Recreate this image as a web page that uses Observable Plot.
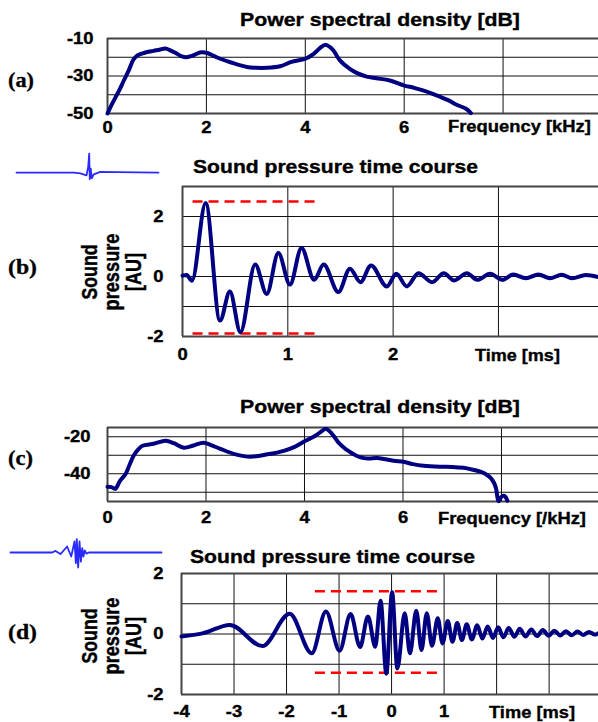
<!DOCTYPE html>
<html>
<head>
<meta charset="utf-8">
<script src="https://cdn.jsdelivr.net/npm/d3@7"></script>
<script src="https://cdn.jsdelivr.net/npm/@observablehq/plot@0.6"></script>
<style>
  html, body { margin: 0; padding: 0; background: #fff; }
  #root { position: relative; width: 598px; height: 722px; overflow: hidden; background: #fff; }
</style>
</head>
<body>
<div id="root"></div>
<script>
// ---------------- DATA ----------------
// (a) power spectral density, click 1
const aFreq = [0, 0.08, 0.16, 0.25, 0.33, 0.43, 0.53, 0.62, 0.75, 0.93, 1.05, 1.17, 1.27, 1.37, 1.5, 1.6, 1.72, 1.87, 2.0, 2.15, 2.28, 2.5, 2.82, 3.0, 3.22, 3.49, 3.72, 4.0, 4.17, 4.3, 4.4, 4.48, 4.57, 4.7, 4.9, 5.05, 5.24, 5.44, 5.71, 5.99, 6.2, 6.38, 6.55, 6.71, 6.9, 7.05, 7.25, 7.35];
const aPsd  = [-50, -45.5, -41.5, -37, -32.4, -27, -21, -18.8, -17.6, -16.6, -16, -15.3, -16.3, -17.6, -19.5, -20, -19.2, -17.5, -17.6, -19.3, -20.8, -22.8, -25.2, -25.6, -25.6, -24.8, -22.5, -20.8, -18.2, -15, -13.4, -14.2, -16.4, -21.7, -26.2, -28.5, -30.3, -31.2, -32.4, -35, -36.3, -37.7, -39.3, -40.9, -43, -45.2, -47.5, -49.8];
const aTicksX = [0, 2, 4, 6];
const aTicksY = [-10, -30, -50];
const aGridX = [2, 4, 6, 8];
const aGridY = [-20, -30, -40];

// (b) sound pressure time course, click 1
const bTime = [0, 0.04, 0.09, 0.22, 0.356, 0.45, 0.55, 0.69, 0.8, 0.91, 1.02, 1.13, 1.25, 1.34, 1.48, 1.59, 1.69, 1.79, 1.94, 2.03, 2.13, 2.24, 2.37, 2.48, 2.58, 2.7, 2.8, 2.92, 3.04, 3.14, 3.26, 3.38, 3.49, 3.6, 3.7, 3.83, 3.95];
const bPress = [0.03, 0.05, -0.14, 2.45, -1.47, -0.5, -1.86, 0.4, -0.58, 0.78, -0.27, 0.95, -0.11, 0.4, -0.52, 0.26, -0.19, 0.37, -0.33, 0.09, -0.33, 0.11, -0.19, 0.11, -0.13, 0.11, -0.11, 0.09, -0.11, 0.07, -0.06, 0.07, -0.06, 0.06, -0.06, 0.05, -0.02];
const bTicksX = [0, 1, 2];
const bTicksY = [-2, 0, 2];
const bGridX = [1, 2, 3];
const bGridY = [-1, 0, 1, 2];
const bDashY = [2.5, -1.9];
const bDashX = [0.1, 1.28];

// (c) power spectral density, click 2
const cFreq = [0, 0.08, 0.16, 0.25, 0.37, 0.45, 0.53, 0.62, 0.71, 0.94, 1.18, 1.35, 1.55, 1.75, 1.95, 2.1, 2.29, 2.6, 2.9, 3.25, 3.58, 3.8, 4.02, 4.22, 4.35, 4.43, 4.5, 4.59, 4.7, 4.83, 5.14, 5.3, 5.48, 5.81, 6.01, 6.2, 6.42, 6.76, 7.0, 7.23, 7.4, 7.57, 7.7, 7.78, 7.85, 7.89, 7.94, 8.0, 8.06, 8.12];
const cPsd  = [-47, -47.2, -48.1, -44, -40, -35, -30.3, -27, -24.9, -23.8, -22.2, -23.5, -25.9, -24.7, -23.2, -24.5, -26.5, -29.5, -30.8, -29.5, -27.6, -25.5, -22.2, -19.5, -17, -15.7, -16.8, -19.5, -23.5, -26.5, -31.2, -31.8, -31.5, -33, -33.5, -34.8, -35.7, -36.2, -36.3, -36.8, -37.7, -38.9, -40.5, -42.2, -45, -48, -54.8, -52.5, -52, -54.6];
const cTicksX = [0, 2, 4, 6];
const cTicksY = [-20, -40];
const cGridX = [2, 4, 6, 8];
const cGridY = [-20, -30, -40, -50];

// (d) sound pressure time course, click 2
const dTime = [-4, -3.6, -3.08, -2.46, -1.94, -1.52, -1.25, -0.99, -0.78, -0.6, -0.45, -0.31, -0.21, -0.1, 0.01, 0.11, 0.25, 0.35, 0.47, 0.57, 0.67, 0.77, 0.88, 0.97, 1.07, 1.16, 1.25, 1.34, 1.43, 1.53, 1.63, 1.73, 1.83, 1.93, 2.03, 2.13, 2.23, 2.34, 2.44, 2.55, 2.66, 2.77, 2.88, 2.99, 3.1, 3.21, 3.32, 3.43, 3.54, 3.65, 3.76, 3.87, 3.94];
const dPress = [-0.08, 0.02, 0.3, -0.4, 0.67, -0.64, 0.74, -0.55, 0.66, -0.43, 0.58, -0.42, 1.1, -1.31, 1.38, -1.14, 0.69, -0.64, 0.77, -0.53, 0.69, -0.39, 0.52, -0.31, 0.43, -0.26, 0.36, -0.2, 0.32, -0.18, 0.29, -0.15, 0.25, -0.13, 0.22, -0.11, 0.2, -0.09, 0.17, -0.08, 0.15, -0.07, 0.13, -0.06, 0.11, -0.05, 0.09, -0.04, 0.08, -0.03, 0.07, -0.02, 0.03];
const dTicksX = [-4, -3, -2, -1, 0, 1];
const dTicksY = [-2, 0, 2];
const dGridX = [-3, -2, -1, 0, 1, 2, 3];
const dGridY = [-1, 0, 1];
const dDashY = [1.41, -1.28];
const dDashX = [-1.45, 0.9];

// small inset waveforms (arbitrary units)
const insetBX = [0, 40.4, 45, 49.3, 50.5, 51.2, 51.6, 52.3, 53, 54.4, 59, 71, 100];
const insetBY = [0, 0, -0.05, -0.15, 0.3, 1.0, -0.35, 0.2, -0.3, -0.1, 0.03, 0.02, 0];
const insetDX = [0, 21, 27.6, 29.8, 33.1, 37.5, 40.2, 42.4, 43.3, 43.9, 44.8, 45.7, 46.6, 47.5, 48.3, 49.2, 50.3, 51.9, 100];
const insetDY = [0, 0, 0, 0.12, -0.12, 0.45, -0.3, 0.83, -0.8, 1.0, -1.13, 0.83, -0.68, 0.33, -0.3, 0.15, -0.08, 0, 0];

// ---------------- TEXT ----------------
const titlePsd = "Power spectral density [dB]";
const titleTime = "Sound pressure time course";
const labelFreqA = "Frequency [kHz]";
const labelFreqC = "Frequency [/kHz]";
const labelTime = "Time [ms]";
const yLabelLines = ["Sound", "pressure", "[AU]"];
const panelLetters = ["(a)", "(b)", "(c)", "(d)"];

// ---------------- DRAWING ----------------
const FONT = '"Liberation Sans", Arial, Helvetica, sans-serif';
const SERIF = '"Liberation Serif", "Times New Roman", serif';
const NAVY = "#000080";
const FRAME = "#444";
const GRID = "#111";
const RED = "#ff0000";
const root = document.getElementById("root");

function place(node, left, top) {
  node.style.position = "absolute";
  node.style.left = left + "px";
  node.style.top = top + "px";
  root.appendChild(node);
  return node;
}
function stretchText(svg, k) {
  svg.querySelectorAll("text").forEach(t => {
    const n = t.getComputedTextLength();
    if (n > 0) {
      t.setAttribute("textLength", (n * k).toFixed(2));
      t.setAttribute("lengthAdjust", "spacingAndGlyphs");
      t.setAttribute("stroke", "#000");
      t.setAttribute("stroke-width", "0.35");
    }
  });
}
const zip = (xs, ys) => xs.map((x, i) => ({x, y: ys[i]}));
const fmt = d => String(d);
const baseStyle = {background: "transparent", fontFamily: FONT, fontSize: "16px", fontWeight: "bold", color: "#000", overflow: "visible"};

function panel(o) {
  const marks = [
    Plot.ruleY(o.gridY, {stroke: GRID, strokeWidth: 1}),
    Plot.ruleX(o.gridX, {stroke: GRID, strokeWidth: 1}),
    Plot.ruleY(o.yDomain, {stroke: FRAME, strokeWidth: 2}),
    Plot.ruleX([o.xDomain[0]], {stroke: FRAME, strokeWidth: 2})
  ];
  if (o.dashY) marks.push(Plot.ruleY(o.dashY, {x1: o.dashX[0], x2: o.dashX[1], stroke: RED, strokeWidth: 2.5, strokeDasharray: "10,6"}));
  marks.push(Plot.line(o.data, {x: "x", y: "y", stroke: NAVY, strokeWidth: 4, curve: o.curve, strokeLinejoin: "round"}));
  const svg = Plot.plot({
    width: 598, height: o.height,
    marginLeft: o.ml, marginRight: 0, marginTop: o.mt, marginBottom: o.mb,
    style: baseStyle,
    x: {domain: o.xDomain, ticks: o.xTicks, tickSize: 0, tickPadding: o.xPad, tickFormat: fmt, label: null},
    y: {domain: o.yDomain, ticks: o.yTicks, tickSize: 0, tickPadding: o.yPad, tickFormat: fmt, label: null},
    marks
  });
  place(svg, 0, o.top);
  stretchText(svg, 1.15);
  return svg;
}

panel({top: 0, height: 140, ml: 107, mt: 38, mb: 27, xDomain: [0, 9.93], yDomain: [-50, -10],
  xTicks: aTicksX, yTicks: aTicksY, xPad: 8.5, yPad: 14, gridX: aGridX, gridY: aGridY,
  data: zip(aFreq, aPsd), curve: "catmull-rom"});
panel({top: 140, height: 230, ml: 182, mt: 46, mb: 34, xDomain: [0, 3.95], yDomain: [-2, 3],
  xTicks: bTicksX, yTicks: bTicksY, xPad: 12.5, yPad: 19, gridX: bGridX, gridY: bGridY,
  dashY: bDashY, dashX: bDashX, data: zip(bTime, bPress), curve: "monotone-x"});
panel({top: 380, height: 150, ml: 107, mt: 47, mb: 29, xDomain: [0, 9.97], yDomain: [-55, -15],
  xTicks: cTicksX, yTicks: cTicksY, xPad: 10.5, yPad: 17, gridX: cGridX, gridY: cGridY,
  data: zip(cFreq, cPsd), curve: "catmull-rom"});
panel({top: 540, height: 182, ml: 181, mt: 33, mb: 28, xDomain: [-4, 3.94], yDomain: [-2, 2],
  xTicks: dTicksX, yTicks: dTicksY, xPad: 11.5, yPad: 18, gridX: dGridX, gridY: dGridY,
  dashY: dDashY, dashX: dDashX, data: zip(dTime, dPress), curve: "monotone-x"});

function inset(xs, ys, left, top, w, h, yDomain) {
  const svg = Plot.plot({
    width: w, height: h, margin: 0,
    style: {background: "transparent", overflow: "visible"},
    x: {domain: [0, 100], axis: null},
    y: {domain: yDomain, axis: null},
    marks: [Plot.line(zip(xs, ys), {x: "x", y: "y", stroke: "#2a2aff", strokeWidth: 1.8})]
  });
  place(svg, left, top);
}
inset(insetBX, insetBY, 16, 150, 142, 30, [-0.42, 1.16]);
inset(insetDX, insetDY, 10, 536, 151, 34, [-1.35, 1.2]);

// overlay text
const ov = d3.create("svg").attr("width", 598).attr("height", 722)
  .style("position", "absolute").style("left", "0px").style("top", "0px").style("overflow", "visible");
root.appendChild(ov.node());

function txt(str, x, y, {size, family = FONT, anchor = "start", width, sw = 0.35}) {
  const t = ov.append("text").text(str)
    .attr("font-family", family).attr("font-size", size).attr("font-weight", "bold")
    .attr("text-anchor", anchor).attr("fill", "#000")
    .attr("stroke", "#000").attr("stroke-width", sw);
  const n = t.node().getComputedTextLength();
  const sx = width && n ? width / n : 1.2;
  t.attr("transform", `translate(${x},${y}) scale(${sx},1)`);
}
function vtxt(str, x, y, {size, length}) {
  const t = ov.append("text").text(str)
    .attr("font-family", FONT).attr("font-size", size).attr("font-weight", "bold")
    .attr("text-anchor", "middle").attr("fill", "#000")
    .attr("stroke", "#000").attr("stroke-width", 0.35);
  const n = t.node().getComputedTextLength();
  const k = length && n ? length / n : 1;
  t.attr("transform", `translate(${x},${y}) scale(1.25,${k}) rotate(-90)`);
}

txt(titlePsd, 380, 26, {size: 18, anchor: "middle", width: 280});
txt(titleTime, 335.5, 173, {size: 18, anchor: "middle", width: 285});
txt(titlePsd, 380, 413, {size: 18, anchor: "middle", width: 280});
txt(titleTime, 332.5, 562.5, {size: 18, anchor: "middle", width: 285});

txt(labelFreqA, 448, 131.5, {size: 16.5, width: 143});
txt(labelTime, 475, 360.5, {size: 16.5, width: 85});
txt(labelFreqC, 438, 524, {size: 16.5, width: 148});
txt(labelTime, 489, 718, {size: 16.5, width: 86});

txt(panelLetters[0], 8, 87, {size: 21, family: SERIF, width: 26, sw: 0.3});
txt(panelLetters[1], 8, 274, {size: 21, family: SERIF, width: 29, sw: 0.3});
txt(panelLetters[2], 8, 465, {size: 21, family: SERIF, width: 25, sw: 0.3});
txt(panelLetters[3], 8, 639, {size: 21, family: SERIF, width: 29, sw: 0.3});

const yLabLen = [55, 77, 38];
const yLabX = [97, 119, 141];
yLabelLines.forEach((s, i) => {
  vtxt(s, yLabX[i], 272, {size: 17, length: yLabLen[i]});
  vtxt(s, yLabX[i], 636, {size: 17, length: yLabLen[i]});
});
</script>
</body>
</html>
